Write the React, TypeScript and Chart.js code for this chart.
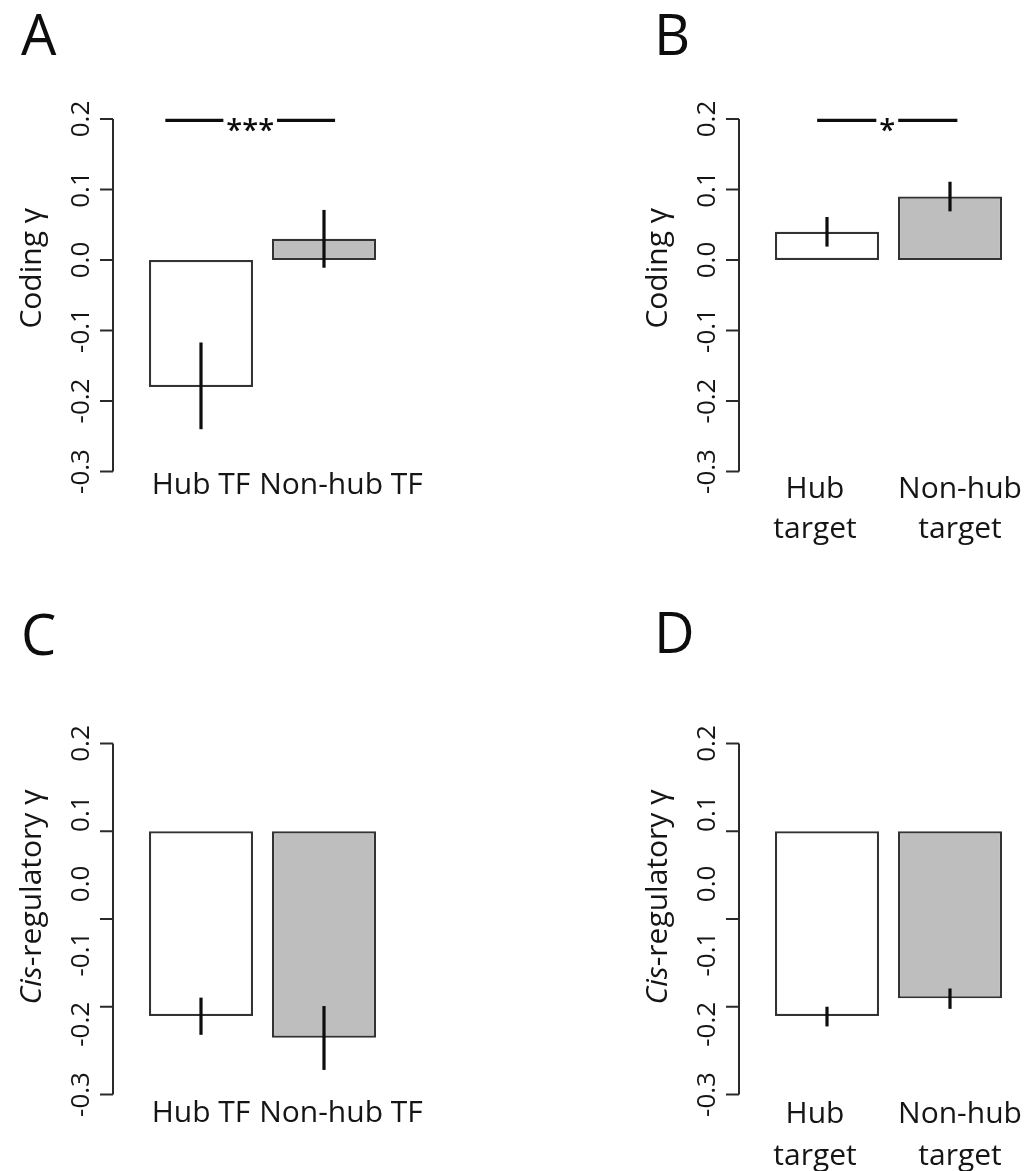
import React, { useEffect, useRef } from "react";
import { Chart, registerables } from "chart.js";

Chart.register(...registerables);

// ---------------- data ----------------
const tfCategories: string[] = ["Hub TF", "Non-hub TF"];
const targetCategories: string[][] = [
  ["Hub", "target"],
  ["Non-hub", "target"],
];

const codingTFMeans = [-0.18, 0.03];
const codingTFLower = [-0.24, -0.011];
const codingTFUpper = [-0.117, 0.071];

const codingTargetMeans = [0.04, 0.09];
const codingTargetLower = [0.019, 0.069];
const codingTargetUpper = [0.061, 0.111];

const cisTFMeans = [-0.188, -0.219];
const cisTFLower = [-0.215, -0.265];
const cisTFUpper = [-0.162, -0.174];

const cisTargetMeans = [-0.188, -0.163];
const cisTargetLower = [-0.203, -0.178];
const cisTargetUpper = [-0.175, -0.149];

const cisBarBase = 0.075;

const yTickLabels = ["0.2", "0.1", "0.0", "-0.1", "-0.2", "-0.3"];
const yTickValues = [0.2, 0.1, 0.0, -0.1, -0.2, -0.3];
const codingTickMarks = [0.2, 0.1, 0.0, -0.1, -0.2, -0.3];
const cisTickMarks = [0.2, 0.075, -0.05, -0.175, -0.3];
const yMin = -0.3;
const yMax = 0.2;

const sigValue = 0.198;
const barFills = ["#ffffff", "#bebebe"];

// ---------------- panel configuration ----------------
type PanelCfg = {
  letter: string;
  left: number;
  top: number;
  width: number;
  height: number;
  pad: { left: number; right: number; top: number; bottom: number };
  labels: (string | string[])[];
  means: number[];
  lower: number[];
  upper: number[];
  base?: number;
  tickMarks: number[];
  titleItalic: string;
  titleNormal: string;
  sig?: { text: string; span: [number, number] };
  labelShift: number[];
  labelBaseline: number;
  lineGap: number;
  letterPos: [number, number];
  titleShift: number;
};

const FONT = "'Open Sans', 'Noto Sans', sans-serif";
const INK = "#151515";

const panels: PanelCfg[] = [
  {
    letter: "A",
    left: 0,
    top: 0,
    width: 516,
    height: 580,
    pad: { left: 139.5, right: 130.5, top: 119, bottom: 108.5 },
    labels: tfCategories,
    means: codingTFMeans,
    lower: codingTFLower,
    upper: codingTFUpper,
    tickMarks: codingTickMarks,
    titleItalic: "",
    titleNormal: "Coding γ",
    sig: { text: "***", span: [-0.29, 1.09] },
    labelShift: [0, 17],
    labelBaseline: 22,
    lineGap: 40,
    letterPos: [21, 55],
    titleShift: -27,
  },
  {
    letter: "B",
    left: 516,
    top: 0,
    width: 516,
    height: 580,
    pad: { left: 249.5, right: 20.5, top: 119, bottom: 108.5 },
    labels: targetCategories,
    means: codingTargetMeans,
    lower: codingTargetLower,
    upper: codingTargetUpper,
    tickMarks: codingTickMarks,
    titleItalic: "",
    titleNormal: "Coding γ",
    sig: { text: "*", span: [-0.08, 1.06] },
    labelShift: [-12, 10],
    labelBaseline: 26,
    lineGap: 40,
    letterPos: [138, 55],
    titleShift: -27,
  },
  {
    letter: "C",
    left: 0,
    top: 580,
    width: 516,
    height: 591,
    pad: { left: 139.5, right: 130.5, top: 163.5, bottom: 76.5 },
    labels: tfCategories,
    means: cisTFMeans,
    lower: cisTFLower,
    upper: cisTFUpper,
    base: cisBarBase,
    tickMarks: cisTickMarks,
    titleItalic: "Cis",
    titleNormal: "-regulatory γ",
    labelShift: [0, 17],
    labelBaseline: 27,
    lineGap: 40,
    letterPos: [21, 75],
    titleShift: -22,
  },
  {
    letter: "D",
    left: 516,
    top: 580,
    width: 516,
    height: 591,
    pad: { left: 249.5, right: 20.5, top: 163.5, bottom: 76.5 },
    labels: targetCategories,
    means: cisTargetMeans,
    lower: cisTargetLower,
    upper: cisTargetUpper,
    base: cisBarBase,
    tickMarks: cisTickMarks,
    titleItalic: "Cis",
    titleNormal: "-regulatory γ",
    labelShift: [-12, 10],
    labelBaseline: 28,
    lineGap: 42,
    letterPos: [138, 73],
    titleShift: -22,
  },
];

function makeDecor(cfg: PanelCfg) {
  return {
    id: "panelDecor" + cfg.letter,
    afterDatasetsDraw(chart: any) {
      const ctx: CanvasRenderingContext2D = chart.ctx;
      const ys = chart.scales.y;
      const xs = chart.scales.x;
      const area = chart.chartArea;
      const meta = chart.getDatasetMeta(0);
      ctx.save();

      // error bars
      ctx.strokeStyle = "#0d0d0d";
      ctx.lineWidth = 3.2;
      ctx.lineCap = "butt";
      meta.data.forEach((bar: any, i: number) => {
        ctx.beginPath();
        ctx.moveTo(bar.x, ys.getPixelForValue(cfg.lower[i]));
        ctx.lineTo(bar.x, ys.getPixelForValue(cfg.upper[i]));
        ctx.stroke();
      });

      // y axis line and tick marks
      const ax = Math.round(area.left - 27);
      ctx.strokeStyle = "#2a2a2a";
      ctx.lineWidth = 2;
      ctx.beginPath();
      ctx.moveTo(ax, ys.getPixelForValue(yMax));
      ctx.lineTo(ax, ys.getPixelForValue(yMin));
      ctx.stroke();
      cfg.tickMarks.forEach((v) => {
        const py = ys.getPixelForValue(v);
        ctx.beginPath();
        ctx.moveTo(ax - 13, py);
        ctx.lineTo(ax, py);
        ctx.stroke();
      });

      // tick labels (rotated, parallel to axis)
      ctx.fillStyle = INK;
      ctx.font = `26px ${FONT}`;
      ctx.textAlign = "center";
      ctx.textBaseline = "middle";
      yTickValues.forEach((v, i) => {
        const py = ys.getPixelForValue(v);
        ctx.save();
        ctx.translate(ax - 31, py);
        ctx.rotate(-Math.PI / 2);
        ctx.fillText(yTickLabels[i], 0, 0);
        ctx.restore();
      });

      // y axis title
      const titleFontSize = 30;
      const italicFont = `italic ${titleFontSize}px ${FONT}`;
      const normalFont = `${titleFontSize}px ${FONT}`;
      ctx.font = italicFont;
      const wi = cfg.titleItalic ? ctx.measureText(cfg.titleItalic).width : 0;
      ctx.font = normalFont;
      const wn = ctx.measureText(cfg.titleNormal).width;
      const tw = wi + wn;
      const cy = (area.top + area.bottom) / 2 + cfg.titleShift;
      ctx.save();
      ctx.translate(ax - 81, cy);
      ctx.rotate(-Math.PI / 2);
      ctx.textAlign = "left";
      ctx.textBaseline = "middle";
      if (cfg.titleItalic) {
        ctx.font = italicFont;
        ctx.fillText(cfg.titleItalic, -tw / 2, 0);
      }
      ctx.font = normalFont;
      ctx.fillText(cfg.titleNormal, -tw / 2 + wi, 0);
      ctx.restore();

      // category labels
      ctx.font = `30px ${FONT}`;
      ctx.textAlign = "center";
      ctx.textBaseline = "alphabetic";
      ctx.fillStyle = INK;
      meta.data.forEach((bar: any, i: number) => {
        const lab = cfg.labels[i];
        const lines = Array.isArray(lab) ? lab : [lab];
        lines.forEach((line, k) => {
          ctx.fillText(
            line,
            bar.x + cfg.labelShift[i],
            area.bottom + cfg.labelBaseline + k * cfg.lineGap
          );
        });
      });

      // significance bar
      if (cfg.sig) {
        const ly = ys.getPixelForValue(sigValue);
        const x0 = xs.getPixelForValue(cfg.sig.span[0]);
        const x1 = xs.getPixelForValue(cfg.sig.span[1]);
        const mid = (x0 + x1) / 2;
        const sigSize = 29;
        ctx.font = `600 ${sigSize}px ${FONT}`;
        const sw = ctx.measureText(cfg.sig.text).width;
        const half = sw / 2 + 3;
        ctx.strokeStyle = "#0d0d0d";
        ctx.lineWidth = 3.2;
        ctx.beginPath();
        ctx.moveTo(x0, ly);
        ctx.lineTo(mid - half, ly);
        ctx.moveTo(mid + half, ly);
        ctx.lineTo(x1, ly);
        ctx.stroke();
        ctx.fillStyle = "#0d0d0d";
        ctx.textAlign = "center";
        ctx.textBaseline = "alphabetic";
        ctx.fillText(cfg.sig.text, mid, ly + 3 + 0.57 * sigSize);
      }

      // panel letter
      ctx.font = `56px ${FONT}`;
      ctx.textAlign = "left";
      ctx.textBaseline = "alphabetic";
      ctx.fillStyle = "#0d0d0d";
      ctx.fillText(cfg.letter, cfg.letterPos[0], cfg.letterPos[1]);

      ctx.restore();
    },
  };
}

function Panel({ cfg }: { cfg: PanelCfg }) {
  const ref = useRef<HTMLCanvasElement | null>(null);
  useEffect(() => {
    if (!ref.current) return;
    const labels = cfg.labels.map((l) => (Array.isArray(l) ? l.join(" ") : l));
    const chart = new Chart(ref.current, {
      type: "bar",
      data: {
        labels,
        datasets: [
          {
            data: cfg.means,
            backgroundColor: barFills,
            borderColor: "#333333",
            borderWidth: 2.2,
            borderSkipped: false,
            ...(cfg.base !== undefined ? { base: cfg.base } : {}),
            barPercentage: 104 / 123,
            categoryPercentage: 1,
          } as any,
        ],
      },
      options: {
        responsive: false,
        animation: false,
        layout: { padding: cfg.pad },
        plugins: {
          legend: { display: false },
          tooltip: { enabled: false },
          title: { display: false },
        },
        scales: {
          x: { type: "category", display: false, offset: true },
          y: { type: "linear", display: false, min: yMin, max: yMax },
        },
      },
      plugins: [makeDecor(cfg)],
    });
    return () => chart.destroy();
  }, [cfg]);
  return (
    <canvas
      ref={ref}
      width={cfg.width}
      height={cfg.height}
      style={{
        position: "absolute",
        left: cfg.left,
        top: cfg.top,
        width: cfg.width,
        height: cfg.height,
      }}
    />
  );
}

export default function App() {
  return (
    <div
      style={{
        position: "absolute",
        left: 0,
        top: 0,
        width: 1032,
        height: 1171,
        background: "#ffffff",
        overflow: "hidden",
      }}
    >
      {panels.map((p) => (
        <Panel key={p.letter} cfg={p} />
      ))}
    </div>
  );
}
